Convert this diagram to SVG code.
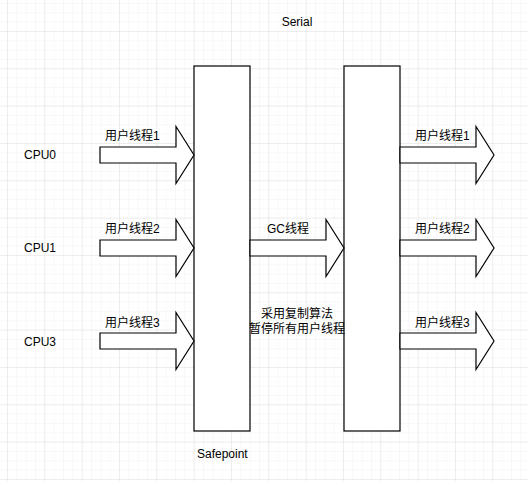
<svg xmlns="http://www.w3.org/2000/svg" width="528" height="481" viewBox="0 0 528 481">
<defs>
<pattern id="minor" patternUnits="userSpaceOnUse" x="7" y="-6.33" width="9.333" height="9.333">
<path d="M0 0H9.333M0 0V9.333" fill="none" stroke="#f2f2f2" stroke-width="1"/>
</pattern>
<pattern id="major" patternUnits="userSpaceOnUse" x="7" y="-6.33" width="37.333" height="37.333">
<path d="M0 0H37.333M0 0V37.333" fill="none" stroke="#e2e2e2" stroke-width="1"/>
</pattern>
<path id="arrowR" d="M0 -8H76V-28.5L94 0L76 28.5V8H0Z"/>
<style>
.box{fill:#fff;stroke:#000;stroke-width:1.2}
.arr{fill:#fff;stroke:#000;stroke-width:1.2}
text{font-family:"Liberation Sans","Noto Sans CJK SC",Arial,sans-serif;font-size:12px;fill:#000}
.mid{text-anchor:middle}
</style>
</defs>
<rect width="528" height="481" fill="#fff"/>
<rect width="528" height="481" fill="url(#minor)"/>
<rect width="528" height="481" fill="url(#major)"/>
<text class="mid" x="297" y="26">Serial</text>
<g id="cpu0"><text x="24" y="159">CPU0</text></g>
<g id="cpu1"><text x="24" y="252">CPU1</text></g>
<g id="cpu3"><text x="24" y="346">CPU3</text></g>
<g id="safepoint"><rect class="box" x="194" y="66" width="56" height="365"/></g>
<g id="gcphase"><rect class="box" x="344" y="66" width="56" height="365"/></g>
<g id="connectors">
<use href="#arrowR" class="arr" transform="translate(100,155)"/>
<use href="#arrowR" class="arr" transform="translate(100,248)"/>
<use href="#arrowR" class="arr" transform="translate(100,341)"/>
<use href="#arrowR" class="arr" transform="translate(250,248)"/>
<use href="#arrowR" class="arr" transform="translate(400,155)"/>
<use href="#arrowR" class="arr" transform="translate(400,248)"/>
<use href="#arrowR" class="arr" transform="translate(400,341)"/>
</g>
<g id="labels">
<text x="105" y="140">用户线程1</text>
<text x="105" y="233">用户线程2</text>
<text x="105" y="327">用户线程3</text>
<text x="267" y="233">GC线程</text>
<text x="415" y="140">用户线程1</text>
<text x="415" y="233">用户线程2</text>
<text x="415" y="327">用户线程3</text>
<text class="mid" x="297" y="318">采用复制算法</text>
<text class="mid" x="297" y="333">暂停所有用户线程</text>
<text x="197" y="458">Safepoint</text>
</g>
</svg>
